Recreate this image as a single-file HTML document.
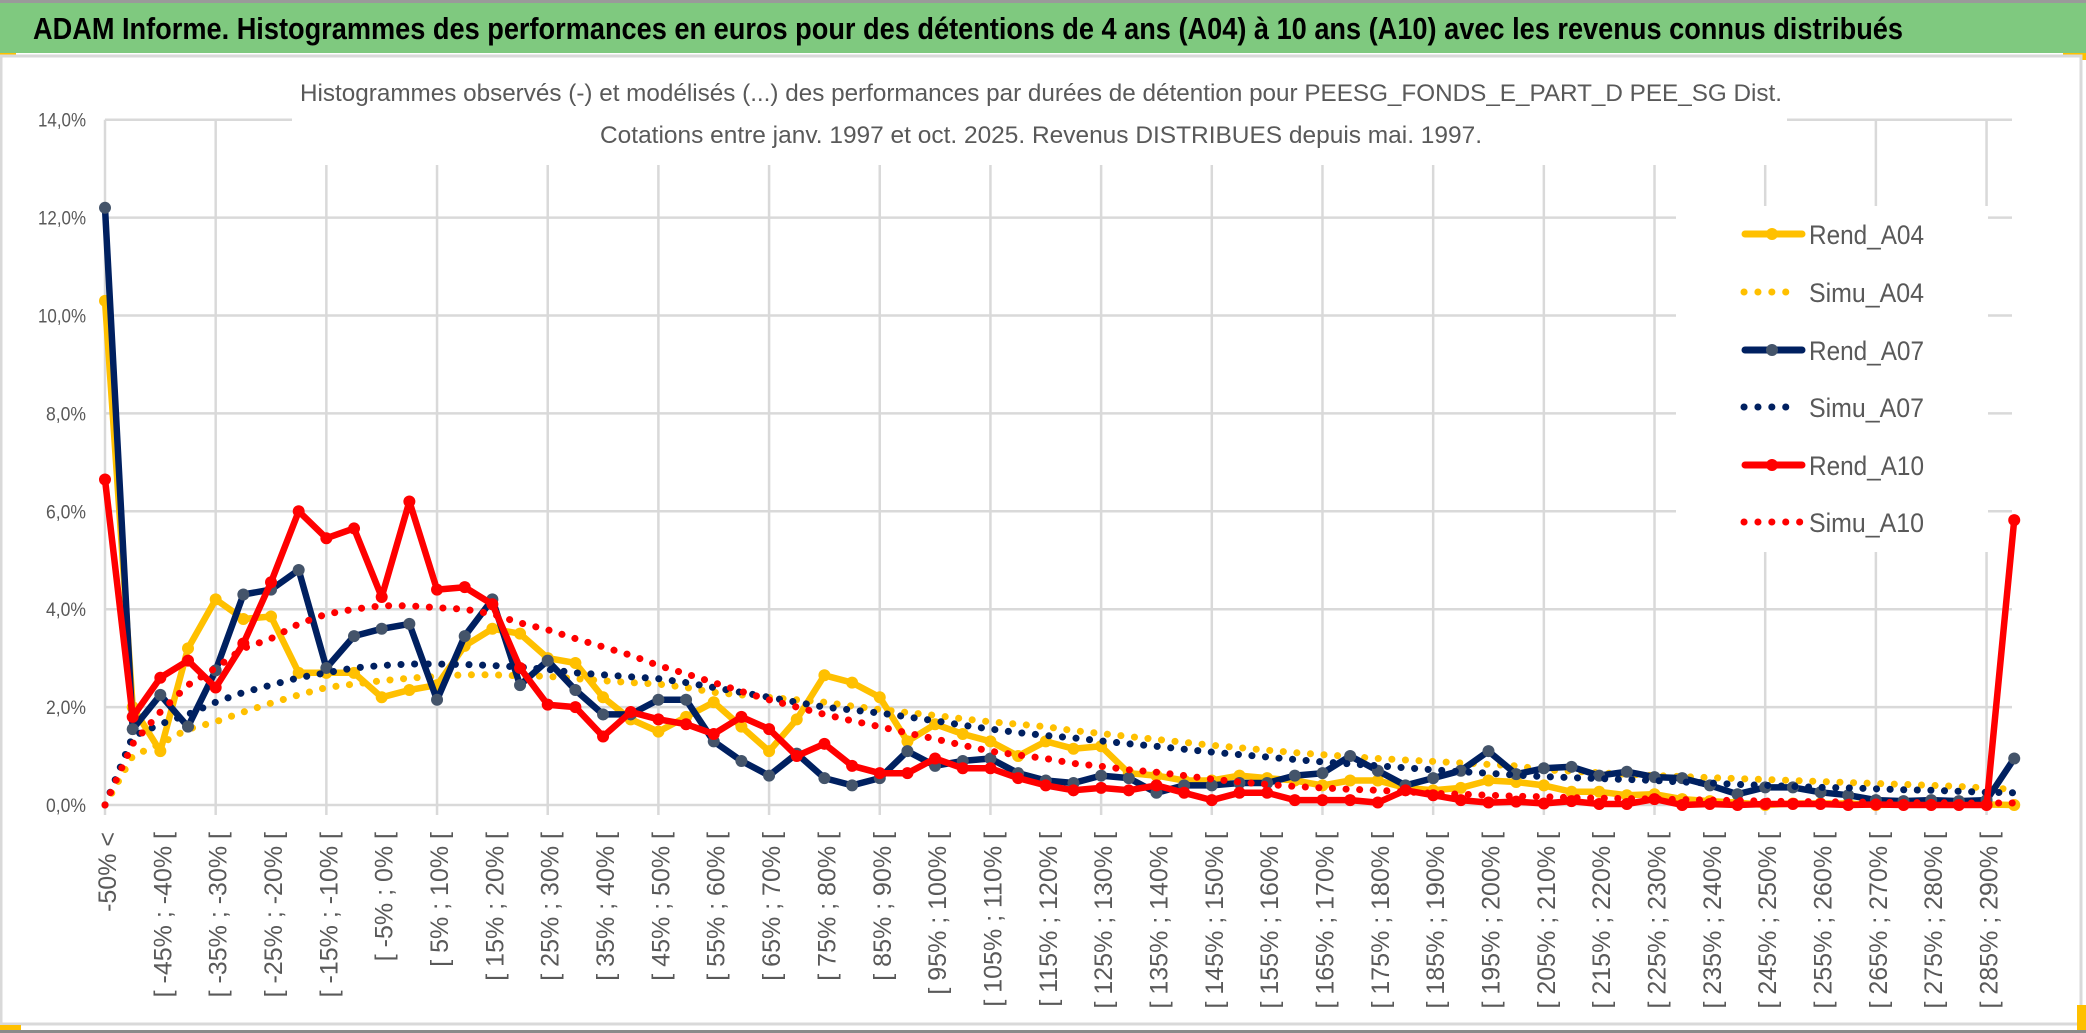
<!DOCTYPE html>
<html><head><meta charset="utf-8"><title>ADAM Informe histogrammes</title>
<style>html,body{margin:0;padding:0;background:#fff;}svg{display:block;}</style></head>
<body>
<svg id="chart" width="2086" height="1033" viewBox="0 0 2086 1033" xmlns="http://www.w3.org/2000/svg">
  <rect x="0" y="0" width="2086" height="1033" fill="#ffffff"/>
  <rect x="0" y="0" width="2086" height="3" fill="#9a9a9a"/>
  <rect x="0" y="3" width="2086" height="50" fill="#7fc97f"/>
  <text x="33" y="39" font-family="'Liberation Sans', sans-serif" font-weight="bold" font-size="31" fill="#000" textLength="1870" lengthAdjust="spacingAndGlyphs">ADAM Informe. Histogrammes des performances en euros pour des détentions de 4 ans (A04) à 10 ans (A10) avec les revenus connus distribués</text>
  <rect x="0" y="53" width="16" height="4" fill="#ffc000"/>
  <rect x="2063" y="53" width="23" height="7" fill="#ffc000"/>
  <rect x="1" y="56" width="2080" height="968" fill="#ffffff" stroke="#d9d9d9" stroke-width="3"/>
  <rect x="0" y="1025" width="21" height="5" fill="#ffc000"/>
  <rect x="2077" y="1005" width="9" height="28" fill="#ffc000"/>
  <rect x="0" y="1030" width="2086" height="3" fill="#8a8a8a"/>
  <g id="grid"></g>
  <g id="yaxis"></g>
  <g id="xaxis"></g>
  <rect x="292" y="68" width="1495" height="97" fill="#ffffff"/>
  <text x="300" y="101" font-family="'Liberation Sans', sans-serif" font-size="24" fill="#595959" textLength="1482" lengthAdjust="spacingAndGlyphs">Histogrammes observés (-) et modélisés (...) des performances par durées de détention pour PEESG_FONDS_E_PART_D PEE_SG Dist.</text>
  <text x="600" y="143" font-family="'Liberation Sans', sans-serif" font-size="24" fill="#595959" textLength="882" lengthAdjust="spacingAndGlyphs">Cotations entre janv. 1997 et oct. 2025. Revenus DISTRIBUES depuis mai. 1997.</text>
  <rect x="1676" y="206" width="312" height="346" fill="#ffffff"/>
  <g id="series"></g>
  <g id="legend"></g>
</svg>
<script>
const categories = ["-50% <","[ -50% ; -45% [","[ -45% ; -40% [","[ -40% ; -35% [","[ -35% ; -30% [","[ -30% ; -25% [","[ -25% ; -20% [","[ -20% ; -15% [","[ -15% ; -10% [","[ -10% ; -5% [","[ -5% ; 0% [","[ 0% ; 5% [","[ 5% ; 10% [","[ 10% ; 15% [","[ 15% ; 20% [","[ 20% ; 25% [","[ 25% ; 30% [","[ 30% ; 35% [","[ 35% ; 40% [","[ 40% ; 45% [","[ 45% ; 50% [","[ 50% ; 55% [","[ 55% ; 60% [","[ 60% ; 65% [","[ 65% ; 70% [","[ 70% ; 75% [","[ 75% ; 80% [","[ 80% ; 85% [","[ 85% ; 90% [","[ 90% ; 95% [","[ 95% ; 100% [","[ 100% ; 105% [","[ 105% ; 110% [","[ 110% ; 115% [","[ 115% ; 120% [","[ 120% ; 125% [","[ 125% ; 130% [","[ 130% ; 135% [","[ 135% ; 140% [","[ 140% ; 145% [","[ 145% ; 150% [","[ 150% ; 155% [","[ 155% ; 160% [","[ 160% ; 165% [","[ 165% ; 170% [","[ 170% ; 175% [","[ 175% ; 180% [","[ 180% ; 185% [","[ 185% ; 190% [","[ 190% ; 195% [","[ 195% ; 200% [","[ 200% ; 205% [","[ 205% ; 210% [","[ 210% ; 215% [","[ 215% ; 220% [","[ 220% ; 225% [","[ 225% ; 230% [","[ 230% ; 235% [","[ 235% ; 240% [","[ 240% ; 245% [","[ 245% ; 250% [","[ 250% ; 255% [","[ 255% ; 260% [","[ 260% ; 265% [","[ 265% ; 270% [","[ 270% ; 275% [","[ 275% ; 280% [","[ 280% ; 285% [","[ 285% ; 290% [","290% <"];
const rendA04 = [10.3,2.0,1.1,3.2,4.2,3.8,3.85,2.7,2.7,2.7,2.2,2.35,2.45,3.25,3.6,3.5,3.0,2.9,2.2,1.75,1.5,1.8,2.1,1.6,1.1,1.75,2.65,2.5,2.2,1.3,1.65,1.45,1.3,1.0,1.3,1.15,1.2,0.65,0.6,0.5,0.5,0.6,0.55,0.5,0.4,0.5,0.5,0.35,0.3,0.35,0.5,0.47,0.4,0.27,0.27,0.2,0.22,0.12,0.08,0.05,0,0.03,0.03,0.03,0,0.01,0.01,0.01,0.01,0];
const simuA04 = [0,1.0,1.25,1.55,1.7,1.9,2.08,2.25,2.4,2.47,2.54,2.59,2.63,2.66,2.66,2.64,2.63,2.58,2.54,2.5,2.47,2.4,2.3,2.25,2.2,2.15,2.1,2.02,1.95,1.89,1.83,1.76,1.7,1.65,1.6,1.52,1.46,1.4,1.34,1.28,1.22,1.17,1.12,1.07,1.03,0.99,0.95,0.92,0.89,0.86,0.83,0.8,0.72,0.69,0.66,0.63,0.6,0.58,0.56,0.54,0.52,0.5,0.48,0.46,0.44,0.42,0.4,0.38,0.35,0.32];
const rendA07 = [12.2,1.55,2.25,1.6,2.75,4.3,4.4,4.8,2.8,3.45,3.6,3.7,2.15,3.45,4.2,2.45,2.95,2.35,1.85,1.85,2.15,2.15,1.3,0.9,0.6,1.05,0.55,0.4,0.55,1.1,0.8,0.9,0.95,0.65,0.5,0.45,0.6,0.55,0.25,0.4,0.4,0.45,0.45,0.6,0.65,1.0,0.7,0.4,0.55,0.7,1.1,0.63,0.75,0.78,0.6,0.68,0.57,0.55,0.4,0.22,0.36,0.36,0.26,0.2,0.1,0.08,0.1,0.08,0.1,0.95];
const simuA07 = [0,1.4,1.65,1.85,2.1,2.3,2.45,2.6,2.7,2.8,2.85,2.88,2.88,2.87,2.85,2.82,2.77,2.7,2.66,2.62,2.58,2.5,2.4,2.3,2.2,2.1,2.0,1.94,1.88,1.8,1.72,1.63,1.55,1.48,1.42,1.37,1.31,1.25,1.2,1.14,1.08,1.03,0.98,0.93,0.88,0.84,0.8,0.76,0.72,0.68,0.65,0.61,0.58,0.56,0.54,0.52,0.5,0.47,0.45,0.42,0.4,0.38,0.36,0.35,0.33,0.31,0.3,0.28,0.26,0.25];
const rendA10 = [6.65,1.8,2.6,2.95,2.4,3.3,4.55,6.0,5.45,5.65,4.25,6.2,4.4,4.45,4.1,2.8,2.05,2.0,1.4,1.9,1.75,1.65,1.45,1.8,1.55,1.0,1.25,0.8,0.65,0.65,0.95,0.75,0.75,0.55,0.4,0.3,0.35,0.3,0.4,0.25,0.1,0.25,0.25,0.1,0.1,0.1,0.05,0.3,0.2,0.1,0.05,0.07,0.03,0.08,0.02,0.02,0.12,0,0.02,0,0.02,0.02,0.02,0,0.01,0,0,0,0,5.82];
const simuA10 = [0,1.25,1.9,2.45,2.8,3.2,3.4,3.7,3.9,4.0,4.07,4.07,4.03,4.0,3.9,3.72,3.58,3.4,3.23,3.06,2.85,2.68,2.5,2.32,2.15,2.0,1.85,1.72,1.6,1.47,1.35,1.22,1.1,1.02,0.95,0.85,0.79,0.72,0.67,0.6,0.53,0.47,0.42,0.38,0.35,0.32,0.3,0.27,0.24,0.22,0.2,0.18,0.17,0.15,0.14,0.13,0.12,0.11,0.1,0.09,0.08,0.07,0.07,0.06,0.06,0.05,0.05,0.04,0.04,0.04];
const yTicks = [0,2,4,6,8,10,12,14];
const yTickLabels = ["0,0%","2,0%","4,0%","6,0%","8,0%","10,0%","12,0%","14,0%"];
const seriesNames = ["Rend_A04","Simu_A04","Rend_A07","Simu_A07","Rend_A10","Simu_A10"];

const NS = "http://www.w3.org/2000/svg";
const X0 = 105, STEP = 27.67, Y0 = 805, PER = 48.95, XR = 2012;
function xPos(i){ return X0 + i*STEP; }
function yPos(v){ return Y0 - v*PER; }
function mk(tag, attrs, parent){
  const el = document.createElementNS(NS, tag);
  for (const k in attrs) el.setAttribute(k, attrs[k]);
  parent.appendChild(el);
  return el;
}
const grid = document.getElementById('grid');
const yaxis = document.getElementById('yaxis');
const xaxis = document.getElementById('xaxis');
const seriesG = document.getElementById('series');
const legend = document.getElementById('legend');

yTicks.forEach((t, k) => {
  const ln = mk('line', {x1: X0, x2: XR, y1: yPos(t), y2: yPos(t), stroke: '#d9d9d9', 'stroke-width': 2.5}, grid);
  
  
  const tx = mk('text', {x: 86, y: yPos(t) + 7, 'text-anchor': 'end', 'font-family': "'Liberation Sans', sans-serif", 'font-size': 19, fill: '#595959', textLength: (yTickLabels[k].length > 4 ? 48 : 40), lengthAdjust: 'spacingAndGlyphs'}, yaxis);
  tx.textContent = yTickLabels[k];
  
  
});
for (let i = 0; i < categories.length; i += 4) {
  const ln = mk('line', {x1: xPos(i), x2: xPos(i), y1: yPos(14), y2: Y0 + 10, stroke: '#d9d9d9', 'stroke-width': 2.5}, grid);
  
  
}
categories.forEach((c, i) => {
  if (i % 2 !== 0) return;
  const x = xPos(i) + 11, y = 832;
  const tx = mk('text', {x: x, y: y, transform: `rotate(-90 ${x} ${y})`, 'text-anchor': 'end', 'font-family': "'Liberation Sans', sans-serif", 'font-size': 25, fill: '#595959'}, xaxis);
  tx.textContent = c;
  
  
});

function drawSolid(vals, color, markerColor, name){
  const g = mk('g', {}, seriesG);
  
  
  const pts = vals.map((v, i) => xPos(i).toFixed(1) + ',' + yPos(v).toFixed(1)).join(' ');
  const pl = mk('polyline', {points: pts, fill: 'none', stroke: color, 'stroke-width': 6.5, 'stroke-linejoin': 'round', 'stroke-linecap': 'round'}, g);
  
  
  vals.forEach((v, i) => {
    const c = mk('circle', {cx: xPos(i), cy: yPos(v), r: 6, fill: markerColor}, g);
    
    
  });
}
function drawDotted(vals, color, name){
  const pts = vals.map((v, i) => xPos(i).toFixed(1) + ',' + yPos(v).toFixed(1)).join(' ');
  const pl = mk('polyline', {points: pts, fill: 'none', stroke: color, 'stroke-width': 7, 'stroke-linecap': 'round', 'stroke-linejoin': 'round', 'stroke-dasharray': '0.1 13.5'}, seriesG);
  
  
}
drawSolid(rendA04, '#ffc000', '#ffc000', 'rend-a04-series');
drawDotted(simuA04, '#ffc000', 'simu-a04-series');
drawSolid(rendA07, '#002060', '#44546a', 'rend-a07-series');
drawDotted(simuA07, '#002060', 'simu-a07-series');
drawSolid(rendA10, '#ff0000', '#ff0000', 'rend-a10-series');
drawDotted(simuA10, '#ff0000', 'simu-a10-series');

const legColors = ['#ffc000','#ffc000','#002060','#002060','#ff0000','#ff0000'];
const legMarkers = ['#ffc000',null,'#44546a',null,'#ff0000',null];
const legY = [234, 292, 350, 407, 465, 522];
seriesNames.forEach((n, k) => {
  const g = mk('g', {}, legend);
  
  
  const y = legY[k];
  if (legMarkers[k]) {
    const l = mk('line', {x1: 1745, x2: 1802, y1: y, y2: y, stroke: legColors[k], 'stroke-width': 7, 'stroke-linecap': 'round'}, g);
    
    
    const c = mk('circle', {cx: 1772, cy: y, r: 6, fill: legMarkers[k]}, g);
    
    
  } else {
    const l = mk('line', {x1: 1744, x2: (k === 5 ? 1800 : 1790), y1: y, y2: y, stroke: legColors[k], 'stroke-width': 7, 'stroke-linecap': 'round', 'stroke-dasharray': '0.1 13.8'}, g);
    
    
  }
  const t = mk('text', {x: 1809, y: y + 10, 'font-family': "'Liberation Sans', sans-serif", 'font-size': 27, fill: '#595959', textLength: 115, lengthAdjust: 'spacingAndGlyphs'}, g);
  t.textContent = n;
  
  
});
</script>
</body></html>
